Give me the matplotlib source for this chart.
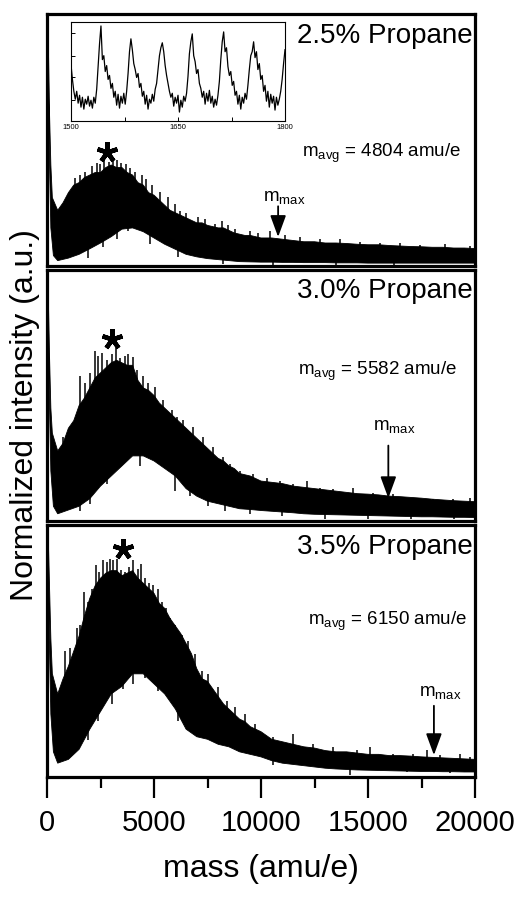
import numpy as np
import matplotlib.pyplot as plt
from matplotlib.ticker import MultipleLocator

plt.rcParams['font.family'] = ['Liberation Sans', 'DejaVu Sans']
plt.rcParams['mathtext.fontset'] = 'custom'
plt.rcParams['mathtext.rm'] = 'Liberation Sans'
plt.rcParams['mathtext.it'] = 'Liberation Sans'
plt.rcParams['mathtext.default'] = 'regular'

# mass grid for the upper edge of each spectrum band
mass_hi = np.r_[[0, 60, 120, 180], np.arange(250, 10001, 250), np.arange(10500, 20001, 500)]
# mass grid for the lower edge
mass_lo = np.r_[[0, 60, 120, 180, 300], np.arange(500, 20001, 500)]

labels = ['2.5% Propane', '3.0% Propane', '3.5% Propane']
m_avg = [4804, 5582, 6150]
m_max = [10800, 15950, 18080]
peak_mass = [2800, 3040, 3550]

hi_25 = [1.02, 0.9, 0.6, 0.4,
         0.27, 0.22, 0.25, 0.29, 0.32, 0.33, 0.35, 0.36, 0.37, 0.37,
         0.39, 0.40, 0.39, 0.39, 0.37, 0.36, 0.33, 0.32, 0.29, 0.28,
         0.26, 0.24, 0.22, 0.21, 0.20, 0.19, 0.18, 0.17, 0.17, 0.16,
         0.155, 0.15, 0.15, 0.14, 0.13, 0.125, 0.12, 0.12, 0.115, 0.11,
         0.11, 0.105, 0.10, 0.095, 0.095, 0.09, 0.09, 0.088, 0.085, 0.083,
         0.083, 0.08, 0.078, 0.076, 0.075, 0.073, 0.073, 0.07, 0.07, 0.068]
lo_25 = [0.95, 0.75, 0.4, 0.15, 0.04,
         0.02, 0.03, 0.045, 0.067, 0.09, 0.115, 0.145, 0.15, 0.135, 0.11,
         0.085, 0.065, 0.045, 0.035, 0.028, 0.024, 0.02, 0.016, 0.015, 0.014,
         0.014, 0.013, 0.013, 0.012, 0.012, 0.012, 0.011, 0.011, 0.011, 0.01,
         0.01, 0.01, 0.01, 0.01, 0.01, 0.01, 0.01, 0.01, 0.01, 0.01]

hi_30 = [1.02, 0.9, 0.65, 0.45,
         0.35, 0.28, 0.31, 0.37, 0.40, 0.46, 0.49, 0.53, 0.57, 0.59,
         0.61, 0.63, 0.64, 0.63, 0.62, 0.62, 0.56, 0.53, 0.52, 0.50,
         0.47, 0.45, 0.43, 0.41, 0.39, 0.37, 0.35, 0.33, 0.31, 0.29,
         0.27, 0.25, 0.24, 0.22, 0.21, 0.19, 0.185, 0.18, 0.17, 0.16,
         0.155, 0.15, 0.14, 0.135, 0.13, 0.125, 0.12, 0.115, 0.11, 0.108,
         0.105, 0.10, 0.098, 0.095, 0.092, 0.088, 0.085, 0.082, 0.08, 0.078]
lo_30 = [0.95, 0.75, 0.45, 0.2, 0.06,
         0.03, 0.045, 0.06, 0.09, 0.14, 0.18, 0.22, 0.26, 0.26, 0.24,
         0.21, 0.18, 0.13, 0.10, 0.08, 0.07, 0.06, 0.05, 0.047, 0.043,
         0.04, 0.037, 0.034, 0.03, 0.028, 0.027, 0.026, 0.025, 0.024, 0.023,
         0.022, 0.021, 0.02, 0.019, 0.018, 0.018, 0.017, 0.016, 0.016, 0.015]

hi_35 = [1.02, 0.95, 0.75, 0.55,
         0.41, 0.33, 0.39, 0.44, 0.50, 0.56, 0.64, 0.71, 0.76, 0.79,
         0.81, 0.82, 0.82, 0.80, 0.81, 0.82, 0.79, 0.77, 0.75, 0.73,
         0.69, 0.67, 0.63, 0.60, 0.57, 0.53, 0.49, 0.43, 0.39, 0.38,
         0.35, 0.32, 0.29, 0.27, 0.25, 0.23, 0.22, 0.20, 0.19, 0.18,
         0.15, 0.14, 0.13, 0.12, 0.115, 0.105, 0.10, 0.10, 0.095, 0.09,
         0.09, 0.085, 0.085, 0.083, 0.08, 0.078, 0.076, 0.074, 0.072, 0.07]
lo_35 = [0.95, 0.8, 0.5, 0.25, 0.1,
         0.055, 0.07, 0.11, 0.19, 0.26, 0.33, 0.36, 0.41, 0.41, 0.37,
         0.33, 0.27, 0.19, 0.16, 0.15, 0.13, 0.12, 0.10, 0.09, 0.08,
         0.065, 0.055, 0.05, 0.045, 0.04, 0.035, 0.032, 0.03, 0.028, 0.027,
         0.026, 0.025, 0.024, 0.023, 0.022, 0.022, 0.021, 0.021, 0.02, 0.02]

# tall single peaks standing above the band (mass, top)
spk_mass_25 = [1308, 1542, 1776, 2103, 2336, 2477, 2664, 2897, 3084, 3271,
               3458, 3692, 3879, 4112, 4439, 4626, 4907, 5280, 5654, 5981,
               6215, 6495, 7056, 7383, 7850, 8178, 8458, 8785, 9486, 9860,
               10421, 11121, 11822, 12757, 13692, 14626, 15561, 16495, 17430,
               18598, 19766]
spk_top_25 = [0.350, 0.362, 0.374, 0.394, 0.409, 0.402, 0.421, 0.413, 0.433,
              0.421, 0.409, 0.402, 0.390, 0.374, 0.362, 0.343, 0.319, 0.291,
              0.272, 0.244, 0.217, 0.209, 0.193, 0.185, 0.165, 0.177, 0.161,
              0.146, 0.138, 0.130, 0.138, 0.122, 0.114, 0.106, 0.106, 0.094,
              0.091, 0.091, 0.083, 0.087, 0.079]
spk_mass_30 = [763, 1075, 1542, 1776, 2009, 2243, 2399, 2555, 2788, 3022,
               3224, 3411, 3645, 3801, 4003, 4190, 4502, 4735, 5047, 5436,
               5826, 6059, 6371, 6838, 7305, 7773, 8240, 8551, 9019, 9642,
               10265, 10888, 11511, 12134, 12757, 13380, 14315, 15249, 16184,
               17118, 18053, 18988, 19766]
spk_top_30 = [0.335, 0.375, 0.576, 0.549, 0.589, 0.676, 0.656, 0.669, 0.643,
              0.663, 0.690, 0.649, 0.656, 0.663, 0.653, 0.602, 0.576, 0.549,
              0.535, 0.482, 0.442, 0.415, 0.402, 0.375, 0.335, 0.294, 0.254,
              0.228, 0.201, 0.187, 0.174, 0.161, 0.147, 0.161, 0.134, 0.127,
              0.134, 0.114, 0.107, 0.094, 0.087, 0.087, 0.094]
spk_mass_35 = [841, 1075, 1386, 1542, 1745, 1900, 2087, 2274, 2430, 2632,
               2788, 2944, 3100, 3255, 3458, 3645, 3832, 4035, 4237, 4393,
               4579, 4766, 4969, 5171, 5358, 5545, 5748, 5981, 6293, 6604,
               6916, 7227, 7539, 8006, 8396, 8785, 9252, 9720, 10576, 11511,
               12445, 13380, 14470, 15093, 16184, 17118, 17741, 18364, 19299,
               19766]
spk_top_35 = [0.500, 0.513, 0.592, 0.605, 0.736, 0.697, 0.749, 0.841, 0.815,
              0.861, 0.854, 0.867, 0.861, 0.867, 0.822, 0.815, 0.835, 0.861,
              0.828, 0.848, 0.789, 0.769, 0.762, 0.749, 0.697, 0.670, 0.631,
              0.605, 0.566, 0.539, 0.487, 0.421, 0.408, 0.356, 0.303, 0.277,
              0.251, 0.211, 0.159, 0.172, 0.133, 0.119, 0.106, 0.119, 0.093,
              0.093, 0.106, 0.087, 0.093, 0.080]

# deepest points reaching down below the band (mass, bottom)
dip_mass_25 = [1900, 2632, 3255, 3801, 4813, 6137, 8240, 10576, 13500, 16200]
dip_low_25 = [0.03, 0.075, 0.106, 0.138, 0.087, 0.035, 0.008, 0.004, 0.003, 0.003]
dip_mass_30 = [1540, 2000, 2800, 3700, 4350, 5980, 6700, 7500, 8300, 9500,
               11000, 13000, 15000, 17000, 19000]
dip_low_30 = [0.04, 0.07, 0.15, 0.24, 0.22, 0.12, 0.10, 0.06, 0.04, 0.03,
              0.02, 0.01, 0.008, 0.01, 0.008]
dip_mass_35 = [1308, 1931, 2399, 3022, 3567, 4035, 4579, 5202, 6137, 6994,
               10576, 14159, 16807, 18832]
dip_low_35 = [0.133, 0.146, 0.224, 0.290, 0.349, 0.369, 0.395, 0.343, 0.224,
              0.172, 0.047, 0.008, 0.021, 0.015]

# zoomed detail of the 2.5% spectrum, 1500-1800 amu/e
inset_mass = np.arange(1500, 1801, 2)
inset_int = [0.57, 0.42, 0.30, 0.22, 0.30, 0.18, 0.26, 0.14, 0.24, 0.12,
             0.22, 0.17, 0.25, 0.15, 0.21, 0.13, 0.24, 0.18, 0.32, 0.55,
             0.78, 0.96, 0.62, 0.66, 0.50, 0.56, 0.42, 0.46, 0.33, 0.38,
             0.24, 0.30, 0.16, 0.27, 0.13, 0.25, 0.18, 0.28, 0.17, 0.30,
             0.48, 0.70, 0.83, 0.72, 0.58, 0.52, 0.44, 0.48, 0.34, 0.38,
             0.25, 0.30, 0.17, 0.26, 0.12, 0.22, 0.18, 0.27, 0.20, 0.32,
             0.38, 0.52, 0.66, 0.74, 0.79, 0.70, 0.56, 0.46, 0.38, 0.30,
             0.24, 0.28, 0.15, 0.24, 0.18, 0.26, 0.09, 0.21, 0.14, 0.25,
             0.20, 0.28, 0.45, 0.68, 0.80, 0.88, 0.66, 0.60, 0.48, 0.52,
             0.38, 0.33, 0.24, 0.30, 0.17, 0.28, 0.20, 0.31, 0.18, 0.25,
             0.14, 0.22, 0.16, 0.26, 0.40, 0.62, 0.80, 0.90, 0.70, 0.74,
             0.55, 0.46, 0.50, 0.36, 0.40, 0.26, 0.30, 0.17, 0.26, 0.12,
             0.24, 0.18, 0.28, 0.22, 0.36, 0.52, 0.66, 0.70, 0.80, 0.64,
             0.70, 0.52, 0.58, 0.42, 0.46, 0.30, 0.36, 0.20, 0.30, 0.14,
             0.27, 0.18, 0.25, 0.11, 0.24, 0.16, 0.22, 0.30, 0.42, 0.58,
             0.72]

his = [hi_25, hi_30, hi_35]
los = [lo_25, lo_30, lo_35]
spk_m = [spk_mass_25, spk_mass_30, spk_mass_35]
spk_t = [spk_top_25, spk_top_30, spk_top_35]
dip_m = [dip_mass_25, dip_mass_30, dip_mass_35]
dip_l = [dip_low_25, dip_low_30, dip_low_35]

W, H = 524, 899
fig = plt.figure(figsize=(W / 100, H / 100), dpi=100)
gs = fig.add_gridspec(3, 1, left=47 / W, right=475 / W, top=1 - 14 / H,
                      bottom=1 - 777 / H, hspace=0.016)

arrow = dict(arrowstyle='-|>,head_length=0.6,head_width=0.22', color='k',
             lw=1.3, mutation_scale=22, shrinkA=0, shrinkB=0)

# text heights inside each panel (axes fraction)
avg_x = [0.967, 0.958, 0.981]
avg_y = [0.433, 0.582, 0.606]
star_y = [0.453, 0.723, 0.906]
mmax_text_y = [0.256, 0.361, 0.323]
mmax_start = [0.236, 0.301, 0.283]
mmax_tip = [0.114, 0.092, 0.087]

for i in range(3):
    ax = fig.add_subplot(gs[i])
    hi = np.array(his[i])
    lo = np.array(los[i])
    ax.fill(np.r_[mass_hi, mass_lo[::-1]], np.r_[hi, lo[::-1]],
            color='k', lw=0.6)
    # single peaks on top of the band and dips under it
    sm = np.array(spk_m[i])
    ax.vlines(sm, np.interp(sm, mass_hi, hi) - 0.03, spk_t[i],
              color='k', lw=1.1)
    dm = np.array(dip_m[i])
    ax.vlines(dm, dip_l[i], np.interp(dm, mass_lo, lo) + 0.03,
              color='k', lw=1.1)
    ax.set_xlim(0, 20000)
    ax.set_ylim(0, 1)
    ax.set_yticks([])
    for s in ax.spines.values():
        s.set_linewidth(2.3)
    ax.text(0.995, 0.886, labels[i], transform=ax.transAxes,
            ha='right', va='baseline', fontsize=20)
    ax.text(avg_x[i], avg_y[i], 'm$_{avg}$ = %d amu/e' % m_avg[i],
            transform=ax.transAxes, ha='right', va='baseline', fontsize=13.5)
    ax.plot(peak_mass[i], star_y[i], marker=(5, 2, 0), ms=15, mew=3.2,
            color='k', clip_on=False)
    ax.annotate('', xy=(m_max[i], mmax_tip[i]),
                xytext=(m_max[i], mmax_start[i]), arrowprops=arrow)
    ax.text(m_max[i] - 700, mmax_text_y[i], 'm$_{max}$', ha='left',
            va='baseline', fontsize=13.5)
    if i < 2:
        ax.set_xticks([])
    else:
        ax.xaxis.set_major_locator(MultipleLocator(5000))
        ax.xaxis.set_minor_locator(MultipleLocator(2500))
        ax.tick_params(axis='x', which='major', direction='out', length=15,
                       width=1.6, labelsize=21, pad=8)
        ax.tick_params(axis='x', which='minor', direction='out', length=8,
                       width=1.6)
        ax.set_xlabel('mass (amu/e)', fontsize=23, labelpad=12)

fig.text(25 / W, 0.5 + (899 / 2 - 415) / H, 'Normalized intensity (a.u.)',
         rotation=90, ha='center', va='center', fontsize=23)

ins = fig.add_axes([71 / W, 1 - 121 / H, 214 / W, 99 / H])
ins.plot(inset_mass, inset_int, color='k', lw=0.9)
ins.set_xlim(1500, 1800)
ins.set_ylim(0, 1)
ins.set_xticks([1500, 1650, 1800])
ins.xaxis.set_minor_locator(MultipleLocator(75))
ins.set_yticks([0.21, 0.44, 0.66, 0.89])
ins.set_yticklabels([])
ins.tick_params(direction='in', length=3, width=0.7, labelsize=5.5, pad=2)
ins.tick_params(which='minor', direction='in', length=3, width=0.7)
for s in ins.spines.values():
    s.set_linewidth(0.8)

fig.savefig('out.png', dpi=100)
